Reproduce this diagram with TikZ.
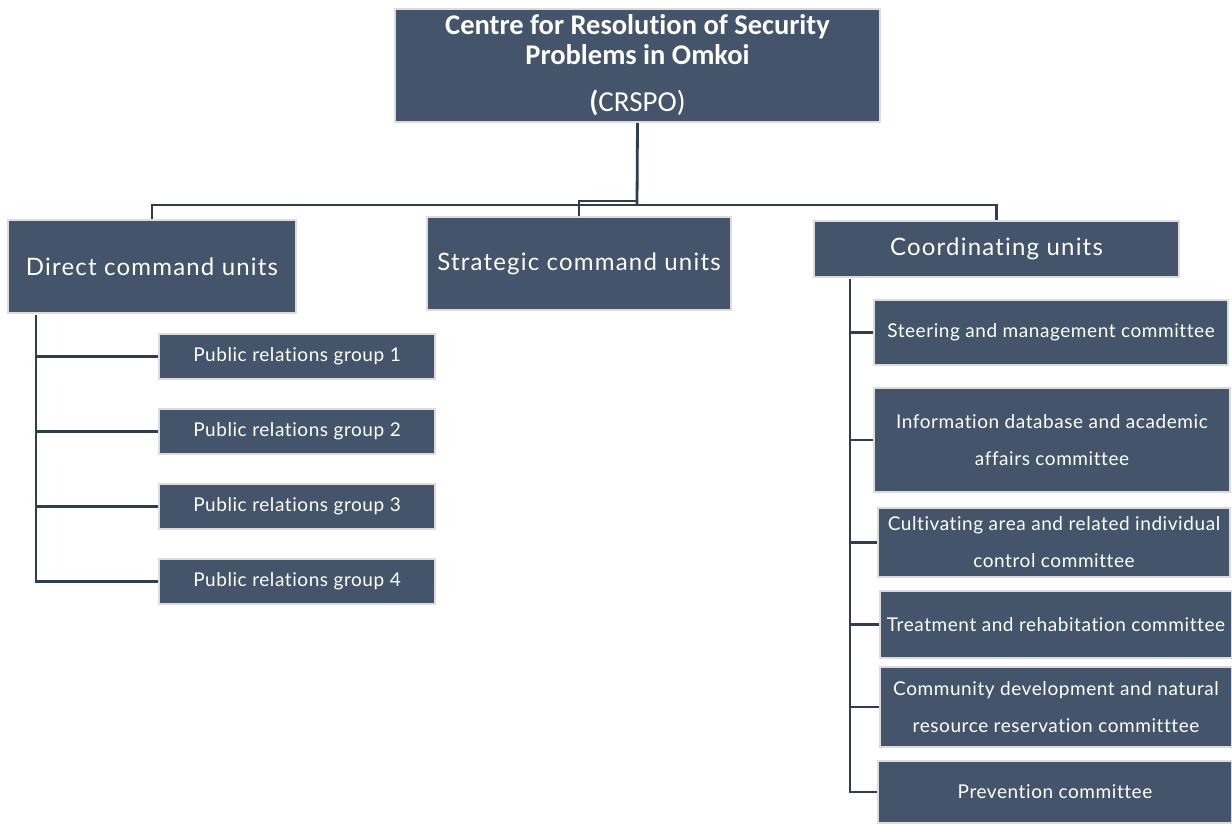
\documentclass[tikz,border=0pt]{standalone}
\usepackage{fontspec}
\setmainfont[Ligatures=NoCommon]{Lato}
\newfontfamily\subfont[LetterSpace=3,Ligatures=NoCommon]{Lato}
\newfontfamily\unitfont[LetterSpace=5,Ligatures=NoCommon]{Lato}
\newfontfamily\titlefont[Ligatures=NoCommon]{Carlito}
\definecolor{boxfill}{HTML}{44546A}
\definecolor{boxline}{HTML}{DCDCDC}
\definecolor{connc}{HTML}{2E3D50}
\begin{document}
\begin{tikzpicture}[x=1pt,y=-1pt,
  box/.style={draw=boxline, line width=2pt, fill=boxfill, text=white, inner sep=0pt, align=center},
  unitbox/.style={box, font=\unitfont\fontsize{24}{28}\selectfont},
  subbox/.style={box, font=\subfont\fontsize{19}{37}\selectfont},
  titletext/.style={text=white, inner sep=0pt, anchor=base},
  conn/.style={draw=connc, line width=2.8pt}]
\useasboundingbox (0,0) rectangle (1232,823);
% top
\node[box, minimum width=485pt, minimum height=113pt] (top) at (637.5,65.5) {};
\node[titletext, font=\titlefont\bfseries\fontsize{28.5}{30}\selectfont] (t1) at (637.5,34) {Centre for Resolution of Security};
\node[titletext, font=\titlefont\bfseries\fontsize{28.5}{30}\selectfont] (t2) at (637.5,64) {Problems in Omkoi};
\node[titletext, font=\titlefont\fontsize{29}{30}\selectfont] (t3) at (637.5,111) {{\bfseries(}CRSPO)};
% units
\node[unitbox, minimum width=288pt, minimum height=93pt] (direct) at (152,266.5) {Direct command units};
\node[unitbox, minimum width=304pt, minimum height=93pt] (strat) at (579,263.5) {Strategic command units};
\node[unitbox, minimum width=365pt, minimum height=56pt] (coord) at (996.5,249) {Coordinating units};
% public relations
\node[subbox, minimum width=276pt, minimum height=45pt] (pr1) at (297,356.5) {Public relations group 1};
\node[subbox, minimum width=276pt, minimum height=45pt] (pr2) at (297,431.5) {Public relations group 2};
\node[subbox, minimum width=276pt, minimum height=45pt] (pr3) at (297,506.5) {Public relations group 3};
\node[subbox, minimum width=276pt, minimum height=45pt] (pr4) at (297,581.5) {Public relations group 4};
% committees
\node[subbox, minimum width=354pt, minimum height=65pt] (steer) at (1051,332.5) {Steering and management committee};
\node[subbox, minimum width=356pt, minimum height=104pt] (info) at (1052,440) {Information database and academic\\affairs committee};
\node[subbox, minimum width=352pt, minimum height=69pt] (cult) at (1054,542.5) {Cultivating area and related individual\\control committee};
\node[subbox, minimum width=352pt, minimum height=67pt] (treat) at (1056,624.5) {Treatment and rehabitation committee};
\node[subbox, minimum width=352pt, minimum height=80pt] (comm) at (1056,707) {Community development and natural\\resource reservation committtee};
\node[subbox, minimum width=354pt, minimum height=62pt] (prev) at (1055,792) {Prevention committee};
% connectors top
\coordinate (hub) at (637,205);
\coordinate (hub2) at (637,201);
\draw[conn] (top.south) -- (hub);
\draw[conn] (direct.north) |- (hub) -| (coord.north);
\draw[conn] (strat.north) |- (hub2);
% left
\coordinate (lv) at (36,315);
\draw[conn] (lv) |- (pr4.west);
\foreach \n in {pr1,pr2,pr3} \draw[conn] (\n.west) -- (\n.west -| lv);
% right
\coordinate (rv) at (850,279);
\draw[conn] (rv) |- (prev.west);
\foreach \n in {steer,info,cult,treat,comm} \draw[conn] (\n.west) -- (\n.west -| rv);
\end{tikzpicture}
\end{document}
